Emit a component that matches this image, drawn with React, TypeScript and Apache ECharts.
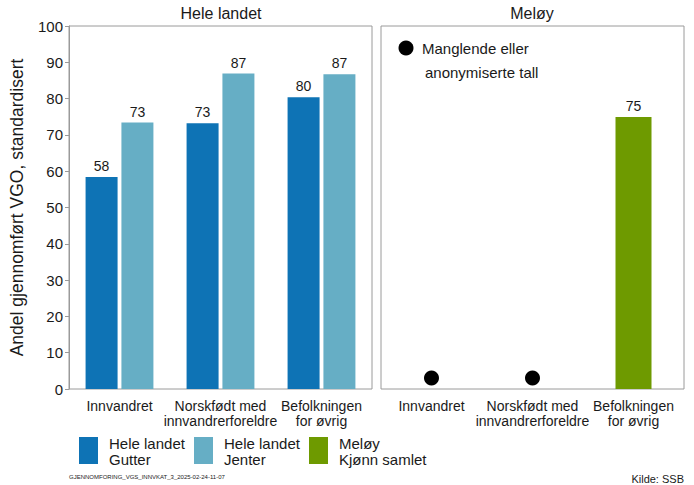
import React, { useEffect, useRef } from "react";
import * as echarts from "echarts";

const categories = ["Innvandret", "Norskfødt med\ninnvandrerforeldre", "Befolkningen\nfor øvrig"];
const panelTitles = ["Hele landet", "Meløy"];
const gutter = [58.4, 73.2, 80.4];
const jenter = [73.4, 86.9, 86.7];
const meloy: (number | null)[] = [null, null, 74.9];
const missing: (number | null)[] = [3, 3, null];
const yTicks = { min: 0, max: 100, interval: 10 };
const legendItems = [
  { l1: "Hele landet", l2: "Gutter", color: "#0e73b5" },
  { l1: "Hele landet", l2: "Jenter", color: "#66aec5" },
  { l1: "Meløy", l2: "Kjønn samlet", color: "#6e9a00" },
];
const missingLabel = ["Manglende eller", "anonymiserte tall"];
const yTitle = "Andel gjennomført VGO, standardisert";
const footerId = "GJENNOMFORING_VGS_INNVKAT_3_2025-02-24-11-07";
const source = "Kilde: SSB";

const FONT = "'Liberation Sans', Arial, sans-serif";
const TXT = "#1a1a1a";

export default function App() {
  const ref = useRef<HTMLDivElement>(null);
  useEffect(() => {
    const chart = echarts.init(ref.current!, undefined, { renderer: "svg" });
    const labelFmt = (p: any) => (p.value == null ? "" : String(Math.round(p.value)));
    const barLabel = { show: true, position: "top", distance: 4, fontSize: 14, color: TXT, fontFamily: FONT, formatter: labelFmt };
    const xAxisBase = {
      type: "category",
      data: categories,
      axisLine: { show: false },
      axisTick: { show: false },
      axisLabel: { fontSize: 14, color: TXT, fontFamily: FONT, margin: 9, lineHeight: 15, interval: 0 },
    };
    const legendGraphics: any[] = [];
    const legX = [79, 194, 309];
    legendItems.forEach((it, i) => {
      legendGraphics.push({ type: "rect", shape: { x: legX[i], y: 437, width: 19, height: 27 }, style: { fill: it.color } });
      legendGraphics.push({
        type: "text", x: legX[i] + 30, y: 435,
        style: { text: it.l1 + "\n" + it.l2, fontSize: 15, fill: TXT, fontFamily: FONT, lineHeight: 16 },
      });
    });
    chart.setOption({
      animation: false,
      grid: [
        { left: 69, top: 26, width: 303, height: 363, show: true, borderColor: "#9a9a9a", borderWidth: 1, backgroundColor: "transparent" },
        { left: 381, top: 26, width: 303, height: 363, show: true, borderColor: "#9a9a9a", borderWidth: 1, backgroundColor: "transparent" },
      ],
      xAxis: [
        { ...xAxisBase, gridIndex: 0 },
        { ...xAxisBase, gridIndex: 1 },
      ],
      yAxis: [
        {
          type: "value", gridIndex: 0, ...yTicks,
          name: yTitle, nameLocation: "middle", nameGap: 43,
          nameTextStyle: { fontSize: 17.5, color: TXT, fontFamily: FONT },
          axisLine: { show: true, lineStyle: { color: "#9a9a9a" } },
          axisTick: { show: true, length: 4, lineStyle: { color: "#9a9a9a" } },
          axisLabel: { fontSize: 15, color: TXT, fontFamily: FONT, margin: 6 },
          splitLine: { show: false },
        },
        { type: "value", gridIndex: 1, ...yTicks, show: false, splitLine: { show: false } },
      ],
      series: [
        { type: "bar", name: "Hele landet Gutter", xAxisIndex: 0, yAxisIndex: 0, data: gutter, barWidth: 32, barGap: "12%", itemStyle: { color: legendItems[0].color }, label: barLabel },
        { type: "bar", name: "Hele landet Jenter", xAxisIndex: 0, yAxisIndex: 0, data: jenter, barWidth: 32, barGap: "12%", itemStyle: { color: legendItems[1].color }, label: barLabel },
        { type: "bar", name: "Meløy Kjønn samlet", xAxisIndex: 1, yAxisIndex: 1, data: meloy, barWidth: 36, itemStyle: { color: legendItems[2].color }, label: barLabel },
        { type: "scatter", name: "Manglende", xAxisIndex: 1, yAxisIndex: 1, data: missing, symbol: "circle", symbolSize: 15, itemStyle: { color: "#000", opacity: 1 } },
      ],
      graphic: [
        { type: "text", x: 221, y: 13, style: { text: panelTitles[0], fontSize: 16, fill: TXT, fontFamily: FONT, align: "center", verticalAlign: "middle" } },
        { type: "text", x: 532, y: 13, style: { text: panelTitles[1], fontSize: 16, fill: TXT, fontFamily: FONT, align: "center", verticalAlign: "middle" } },
        { type: "circle", shape: { cx: 406, cy: 48, r: 7.5 }, style: { fill: "#000" } },
        { type: "text", x: 422, y: 48, style: { text: missingLabel[0], fontSize: 15, fill: TXT, fontFamily: FONT, verticalAlign: "middle" } },
        { type: "text", x: 425, y: 72, style: { text: missingLabel[1], fontSize: 15, fill: TXT, fontFamily: FONT, verticalAlign: "middle" } },
        ...legendGraphics,
        { type: "text", x: 69, y: 477, style: { text: footerId, fontSize: 6, fill: TXT, fontFamily: FONT, verticalAlign: "middle" } },
        { type: "text", x: 684, y: 479, style: { text: source, fontSize: 11, fill: TXT, fontFamily: FONT, align: "right", verticalAlign: "middle" } },
      ],
    });
    return () => chart.dispose();
  }, []);
  return <div ref={ref} style={{ width: 694, height: 485, position: "absolute", left: 0, top: 0 }} />;
}
